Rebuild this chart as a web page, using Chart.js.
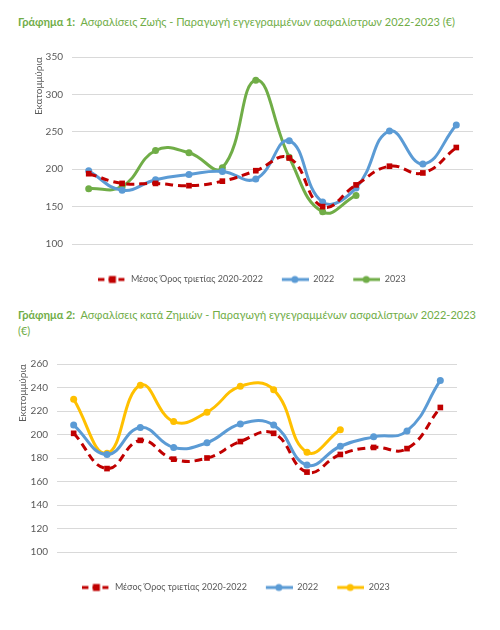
<!DOCTYPE html>
<html>
<head>
<meta charset="utf-8">
<script src="https://cdn.jsdelivr.net/npm/chart.js@4"></script>
<style>
    body { margin: 0; background: #fff; width: 500px; height: 630px; position: relative; overflow: hidden; font-family: Lato, "Open Sans", sans-serif; }
    .title { position: absolute; left: 18px; color: #70AD47; font-size: 11px; line-height: 16px; white-space: nowrap; }
    .title b { font-weight: bold; }
    canvas { position: absolute; left: 0; }
</style>
</head>
<body>
<div class="title" style="top:14px"><b>Γράφημα 1:</b>&nbsp; Ασφαλίσεις Ζωής - Παραγωγή εγγεγραμμένων ασφαλίστρων 2022-2023 (€)</div>
<canvas id="lifeChart" width="500" height="256" style="top:42px"></canvas>
<div class="title" style="top:307px"><b>Γράφημα 2:</b>&nbsp; Ασφαλίσεις κατά Ζημιών - Παραγωγή εγγεγραμμένων ασφαλίστρων 2022-2023<br>(€)</div>
<canvas id="damageChart" width="500" height="257" style="top:349px"></canvas>

<script>
// Data
const months = ['Ιαν', 'Φεβ', 'Μαρ', 'Απρ', 'Μάι', 'Ιούν', 'Ιούλ', 'Αυγ', 'Σεπ', 'Οκτ', 'Νοέ', 'Δεκ'];
const seriesNames = ['Μέσος Όρος τριετίας 2020-2022', '2022', '2023'];

const lifeAvg = [194, 181, 181, 178, 184, 198, 215, 150, 179, 204, 195, 229];
const life2022 = [198, 172, 186, 193, 197, 187, 238, 156, 175, 251, 207, 259];
const life2023 = [174, 177, 225, 222, 202, 319, 216, 143, 165, null, null, null];
const lifeTicks = [100, 150, 200, 250, 300, 350];

const damageAvg = [201, 171, 195, 179, 180, 194, 201, 168, 183, 189, 188, 223];
const damage2022 = [208, 183, 206, 189, 193, 209, 208, 174, 190, 198, 203, 246];
const damage2023 = [230, 184, 242, 211, 219, 241, 238, 185, 204, null, null, null];
const damageTicks = [100, 120, 140, 160, 180, 200, 220, 240, 260];

const RED = '#C00000', BLUE = '#5B9BD5', GREEN = '#70AD47', YELLOW = '#FFC000';
const TEXT = '#595959', GRID = '#D9D9D9';

// legend icon: line with marker in the middle
function legendIcon(color, square, dashed) {
    const c = document.createElement('canvas');
    c.width = 28; c.height = 10;
    const ctx = c.getContext('2d');
    ctx.strokeStyle = color;
    ctx.lineWidth = 3;
    if (dashed) ctx.setLineDash([6, 4]);
    ctx.beginPath();
    ctx.moveTo(dashed ? 0 : 1, 5);
    ctx.lineTo(28, 5);
    ctx.stroke();
    ctx.fillStyle = color;
    if (square) {
        ctx.fillRect(10.5, 1.5, 7, 7);
    } else {
        ctx.beginPath();
        ctx.arc(14, 5, 3.5, 0, Math.PI * 2);
        ctx.fill();
    }
    return c;
}

function makeDataset(label, data, color, square, dashed) {
    return {
        label: label,
        data: data,
        borderColor: color,
        backgroundColor: color,
        borderWidth: 3,
        borderDash: dashed ? [8, 5] : [],
        pointStyle: square ? 'rect' : 'circle',
        pointRadius: square ? 4 : 3.5,
        pointBorderWidth: 0,
        tension: 0.45,
        spanGaps: false,
        _icon: legendIcon(color, square, dashed)
    };
}

function buildChart(id, avg, s2022, s2023, color2023, ticks, pad, yWidth, xPad) {
    const step = ticks[1] - ticks[0];
    return new Chart(document.getElementById(id), {
        type: 'line',
        data: {
            labels: months,
            datasets: [
                makeDataset(seriesNames[0], avg, RED, true, true),
                makeDataset(seriesNames[1], s2022, BLUE, false, false),
                makeDataset(seriesNames[2], s2023, color2023, false, false)
            ]
        },
        options: {
            responsive: false,
            animation: false,
            layout: { padding: pad },
            plugins: {
                tooltip: { enabled: false },
                legend: {
                    position: 'bottom',
                    labels: {
                        usePointStyle: true,
                        pointStyleWidth: 28,
                        boxHeight: 10,
                        padding: 18,
                        color: TEXT,
                        font: { family: 'Lato', size: 9 },
                        generateLabels(chart) {
                            const items = Chart.defaults.plugins.legend.labels.generateLabels(chart);
                            items.forEach((it, i) => {
                                it.pointStyle = chart.data.datasets[i]._icon;
                                it.lineWidth = 0;
                            });
                            return items;
                        }
                    }
                }
            },
            scales: {
                x: {
                    offset: true,
                    grid: { display: false },
                    border: { display: false },
                    ticks: { color: TEXT, font: { family: 'Lato', size: 10 }, padding: xPad, maxRotation: 0 },
                    afterFit(scale) { scale.height = 13; }
                },
                y: {
                    min: ticks[0],
                    max: ticks[ticks.length - 1],
                    afterBuildTicks(scale) { scale.ticks = ticks.map(v => ({ value: v })); },
                    grid: { color: GRID, lineWidth: 1, drawTicks: false },
                    border: { display: false },
                    ticks: { stepSize: step, color: TEXT, font: { family: 'Lato', size: 10 }, padding: 9 },
                    title: {
                        display: true,
                        text: 'Εκατομμύρια',
                        align: 'end',
                        color: TEXT,
                        font: { family: 'Lato', size: 10 },
                        padding: { top: 2, bottom: 0 }
                    },
                    afterFit(scale) { scale.width = yWidth; }
                }
            }
        }
    });
}

buildChart('lifeChart', lifeAvg, life2022, life2023, GREEN, lifeTicks,
    { left: 31, right: 27, top: 6, bottom: 4 }, 41, 6);
buildChart('damageChart', damageAvg, damage2022, damage2023, YELLOW, damageTicks,
    { left: 15, right: 43, top: 7, bottom: 4 }, 42, 7);
</script>
</body>
</html>
